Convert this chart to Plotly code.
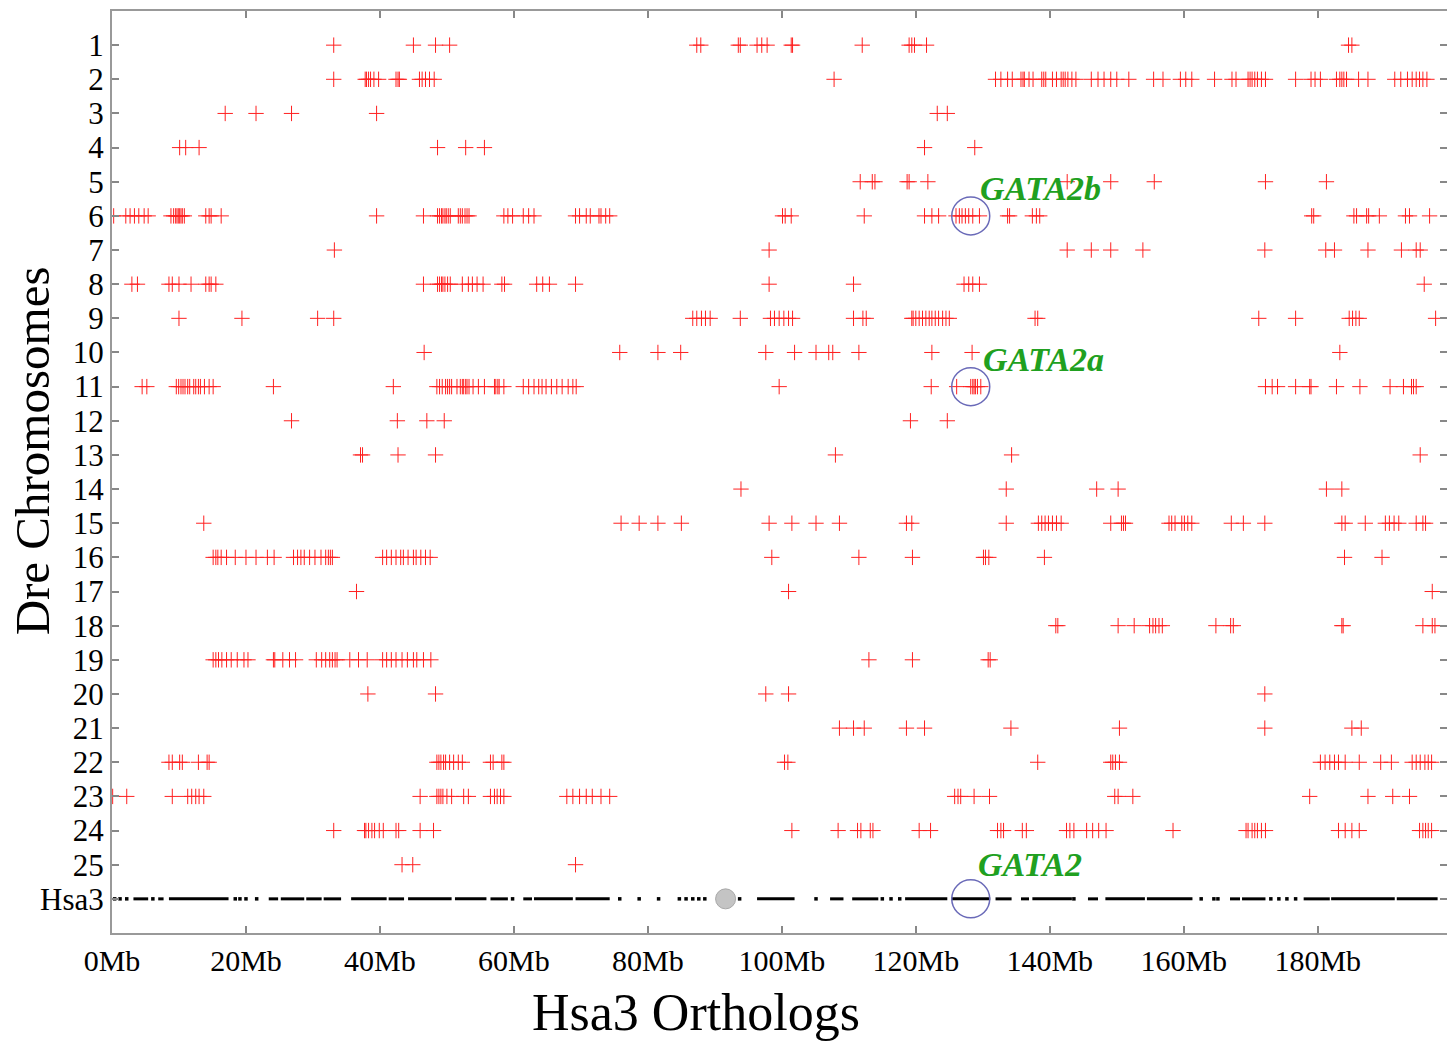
import plotly.graph_objects as go

# ---- Dre chromosome rows: positions (Mb on Hsa3) of orthologs ----
dre1 = [33.1, 45.0, 48.3, 50.4, 87.3, 87.9, 93.5, 93.8, 96.3, 97.0, 97.8, 101.4, 101.6, 112.0,
        119.0, 119.4, 119.8, 121.6, 184.6, 185.1]
dre2 = [33.1, 37.8, 38.0, 38.3, 38.6, 39.1, 39.8, 42.4, 42.7, 42.9, 45.9, 46.3, 46.8, 47.4, 48.1,
        107.8, 131.9, 132.7, 133.7, 134.4, 135.7, 136.0, 136.2, 136.9, 137.5, 138.8, 139.1, 139.4,
        140.4, 141.0, 141.7, 142.0, 142.3, 142.7, 143.3, 143.9, 146.2, 147.2, 148.1, 149.1, 150.0,
        151.8, 155.5, 156.9, 159.5, 160.3, 161.2, 164.6, 167.2, 167.8, 169.6, 169.9, 170.2, 170.6,
        171.0, 171.6, 172.2, 176.7, 179.0, 179.6, 180.4, 182.8, 183.3, 183.6, 183.9, 184.3, 186.1,
        187.5, 191.5, 192.4, 193.4, 194.1, 194.7, 195.2, 195.7, 196.3]
dre3 = [16.9, 21.5, 26.8, 39.5, 123.2, 124.7]
dre4 = [10.1, 11.0, 13.0, 48.6, 52.8, 55.6, 121.3, 128.8]
dre5 = [111.7, 113.5, 113.9, 118.7, 119.0, 121.8, 142.6, 149.1, 155.6, 172.2, 181.3]
dre6 = [0.25, 2.06, 2.7, 3.35, 4.0, 4.8, 5.4, 8.8, 9.2, 9.5, 9.7, 9.9, 10.1, 10.3, 10.5, 10.8,
        14.0, 14.5, 14.8, 16.3, 39.5, 46.5, 48.6, 48.9, 49.2, 49.4, 49.7, 49.9, 50.2, 50.5, 51.7,
        52.0, 52.3, 52.7, 53.0, 53.3, 58.5, 59.1, 59.8, 61.4, 62.2, 63.0, 69.2, 69.8, 70.8, 71.4,
        72.7, 73.0, 73.7, 74.3, 100.1, 100.5, 101.4, 112.3, 121.3, 122.4, 123.4, 126.0, 126.5,
        126.9, 127.4, 127.9, 128.5, 129.5, 133.7, 134.0, 137.4, 138.0, 138.5, 179.1, 179.4, 185.4,
        185.8, 187.3, 187.6, 189.2, 193.1, 193.7, 196.7]
dre7 = [33.2, 98.1, 142.6, 146.2, 149.1, 153.9, 172.1, 181.2, 182.5, 187.5, 192.5, 194.7, 195.3]
dre8 = [2.97, 3.8, 8.5, 9.0, 10.0, 11.8, 14.0, 14.5, 14.8, 15.5, 46.5, 48.6, 48.9, 49.2, 49.4,
        49.7, 50.1, 50.5, 52.3, 53.2, 53.8, 54.5, 55.4, 58.2, 58.6, 63.4, 64.3, 65.3, 69.2, 98.1,
        110.7, 127.2, 127.9, 128.5, 129.5, 195.9]
dre9 = [10.0, 19.4, 30.7, 33.1, 86.7, 87.3, 88.0, 88.6, 89.3, 93.8, 98.3, 98.9, 99.6, 100.3,
        101.0, 101.6, 110.7, 112.1, 112.6, 119.4, 119.6, 120.0, 120.5, 121.0, 121.5, 122.0, 122.4,
        122.9, 123.4, 124.0, 124.5, 125.0, 137.8, 138.2, 171.2, 176.7, 184.7, 185.2, 185.7, 186.2,
        197.6]
dre10 = [46.6, 75.8, 81.5, 84.9, 97.6, 101.9, 105.1, 107.0, 107.6, 111.5, 122.4, 128.4, 183.3]
dre11 = [4.5, 5.2, 9.6, 9.95, 10.3, 10.6, 10.9, 11.3, 11.6, 12.2, 12.5, 12.9, 13.2, 13.8, 14.5,
         15.1, 24.1, 42.0, 48.5, 48.9, 49.3, 49.8, 50.1, 50.4, 50.7, 51.5, 52.0, 52.3, 52.5, 52.8,
         53.0, 53.3, 53.9, 54.7, 55.6, 57.1, 57.3, 57.6, 57.8, 58.5, 61.4, 62.2, 63.0, 63.7, 64.2,
         64.8, 65.6, 66.4, 67.2, 68.1, 68.8, 69.3, 99.6, 122.3, 126.1, 128.2, 128.5, 128.7, 128.9,
         129.2, 129.7, 172.2, 173.2, 174.0, 176.7, 178.8, 179.0, 182.8, 186.3, 190.8, 192.8, 194.0,
         194.3, 194.7]
dre12 = [26.8, 42.6, 47.0, 49.6, 119.2, 124.7]
dre13 = [37.1, 37.4, 42.7, 48.3, 108.0, 134.3, 195.3]
dre14 = [93.9, 133.5, 147.0, 150.2, 181.3, 183.6]
dre15 = [13.7, 76.0, 78.7, 81.5, 85.0, 98.1, 101.5, 105.1, 108.6, 118.6, 119.4, 133.5, 138.3,
         138.8, 139.3, 139.8, 140.4, 141.0, 141.7, 149.1, 150.7, 151.0, 151.3, 157.8, 158.2, 158.7,
         159.7, 160.1, 160.6, 161.2, 167.1, 168.9, 172.1, 183.6, 184.1, 187.1, 190.1, 190.7, 191.4,
         192.1, 194.7, 195.7, 196.1]
dre16 = [15.1, 15.5, 15.8, 16.3, 17.1, 18.4, 20.0, 21.5, 23.2, 24.2, 27.1, 27.7, 28.2, 28.7,
         29.5, 30.3, 31.2, 31.9, 32.3, 32.6, 32.9, 40.4, 41.0, 41.7, 42.4, 43.1, 43.5, 44.2, 45.0,
         45.4, 46.1, 46.8, 47.5, 98.5, 111.5, 119.5, 130.1, 130.4, 130.9, 139.2, 184.0, 189.6]
dre17 = [36.5, 101.0, 197.1]
dre18 = [140.9, 141.2, 150.2, 152.6, 154.9, 155.4, 155.8, 156.3, 156.8, 164.8, 167.0, 167.4,
         183.6, 183.8, 195.7, 197.1, 197.5]
dre19 = [15.1, 15.5, 15.9, 16.4, 17.1, 17.8, 18.7, 19.7, 20.3, 24.1, 24.3, 25.5, 26.5, 27.4,
         30.5, 31.3, 31.9, 32.5, 32.9, 33.3, 33.6, 35.5, 36.8, 38.1, 40.4, 41.0, 41.7, 42.4, 43.3,
         44.1, 45.0, 45.5, 46.5, 47.6, 113.0, 119.5, 130.8, 131.1]
dre20 = [38.2, 48.3, 97.6, 101.0, 172.1]
dre21 = [108.6, 110.7, 112.3, 118.6, 121.3, 134.2, 150.4, 172.1, 185.1, 186.5]
dre22 = [8.5, 9.0, 10.1, 10.5, 12.9, 14.2, 14.5, 48.5, 48.8, 49.1, 49.5, 49.8, 50.4, 51.0, 51.7,
         52.3, 56.5, 56.9, 58.2, 58.5, 100.4, 100.9, 138.2, 149.1, 149.4, 149.8, 150.4, 180.4,
         181.1, 181.8, 182.5, 183.1, 184.1, 186.2, 189.4, 191.0, 194.1, 194.7, 195.3, 196.0, 196.5,
         197.0]
dre23 = [0.1, 2.2, 9.0, 11.3, 11.9, 12.5, 13.0, 13.7, 46.0, 48.5, 48.8, 49.1, 49.4, 50.0, 50.7,
         52.5, 53.2, 56.5, 57.1, 57.5, 58.0, 58.5, 67.9, 68.8, 69.8, 70.8, 71.7, 73.0, 74.3, 125.8,
         126.3, 126.7, 128.7, 131.0, 149.7, 150.2, 152.4, 178.8, 187.5, 191.2, 193.7]
dre24 = [33.1, 37.7, 37.9, 38.3, 38.8, 39.2, 39.9, 40.5, 42.4, 42.8, 46.0, 48.0, 101.5, 108.4,
         111.3, 111.8, 113.2, 113.6, 120.5, 122.2, 132.2, 132.7, 133.1, 135.9, 136.5, 142.5, 143.0,
         143.6, 145.5, 146.4, 147.3, 148.4, 158.4, 169.3, 169.6, 170.2, 170.6, 171.0, 171.6, 172.2,
         183.1, 184.1, 185.1, 186.2, 195.2, 195.7, 196.1, 196.5, 197.0]
dre25 = [43.3, 44.9, 69.2]

dre_rows = [dre1, dre2, dre3, dre4, dre5, dre6, dre7, dre8, dre9, dre10, dre11, dre12, dre13,
            dre14, dre15, dre16, dre17, dre18, dre19, dre20, dre21, dre22, dre23, dre24, dre25]

# ---- Hsa3 row: isolated ortholog dots and dense runs (start/end, Mb) ----
hsa3_dots = [0.4, 1.2, 2.2, 6.1, 18.4, 19.1, 20.0, 21.6, 59.8, 75.8, 78.7, 81.6, 84.7, 85.7,
             86.7, 87.6, 88.5, 93.7, 105.1, 115.0, 116.3, 117.6, 143.6, 162.6, 164.5, 165.1,
             173.0, 174.2, 175.4, 176.7]
hsa3_run_start = [3.2, 6.9, 8.5, 23.4, 25.2, 29.0, 31.6, 35.7, 41.3, 44.2, 51.2, 56.5, 61.4,
                  63.0, 69.2, 96.3, 107.2, 110.5, 118.4, 125.3, 131.9, 135.7, 137.4, 145.7,
                  148.3, 154.5, 166.9, 168.7, 177.9, 182.0, 191.8]
hsa3_run_end = [5.4, 7.7, 17.4, 24.8, 28.7, 31.3, 34.2, 41.0, 43.6, 50.7, 55.9, 59.1, 62.7,
                68.8, 74.3, 101.9, 109.2, 114.4, 124.7, 131.1, 134.3, 136.9, 143.3, 147.2,
                154.2, 161.3, 168.4, 172.2, 181.8, 191.5, 197.9]
centromere_mb = [91.6]

# ---- gene highlights ----
gata_labels = ["GATA2b", "GATA2a", "GATA2"]
gata_pos_mb = [128.2, 128.2, 128.2]
gata_rows = [6, 11, 26]

row_labels = [str(i) for i in range(1, 26)] + ["Hsa3"]
x_tick_mb = [0, 20, 40, 60, 80, 100, 120, 140, 160, 180]
x_tick_text = [f"{v}Mb" for v in x_tick_mb]

SERIF = "Liberation Serif"

fig = go.Figure()

xs, ys = [], []
for i, row in enumerate(dre_rows):
    xs.extend(row)
    ys.extend([i + 1] * len(row))
fig.add_trace(go.Scatter(
    x=xs, y=ys, mode="markers",
    marker=dict(symbol="cross-thin-open", size=11, color="#ff2020",
                line=dict(color="#ff2020", width=1)),
    hoverinfo="x+y", showlegend=False))

# Hsa3 runs
hx, hy = [], []
for s, e in zip(hsa3_run_start, hsa3_run_end):
    hx += [s, e, None]
    hy += [26, 26, None]
fig.add_trace(go.Scatter(x=hx, y=hy, mode="lines",
                         line=dict(color="black", width=3), showlegend=False))
fig.add_trace(go.Scatter(x=hsa3_dots, y=[26] * len(hsa3_dots), mode="markers",
                         marker=dict(symbol="square", size=3.5, color="black"),
                         showlegend=False))
fig.add_trace(go.Scatter(x=centromere_mb, y=[26], mode="markers",
                         marker=dict(symbol="circle", size=20, color="#c4c4c4",
                                     line=dict(color="#a8a8a8", width=1)),
                         showlegend=False))

# Blue circles around GATA2 loci
fig.add_trace(go.Scatter(x=gata_pos_mb, y=gata_rows, mode="markers",
                         marker=dict(symbol="circle-open", size=38, color="#6a6ab8",
                                     line=dict(color="#6a6ab8", width=1.5)),
                         showlegend=False))

label_y = [5.2, 10.2, 25.0]
label_x = [129.3, 129.7, 129.0]
for t, lx, ly in zip(gata_labels, label_x, label_y):
    fig.add_annotation(x=lx, y=ly, text=f"<b><i>{t}</i></b>", showarrow=False,
                       xanchor="left", yanchor="middle",
                       font=dict(family=SERIF, size=34, color="#20a020"))

fig.add_annotation(xref="paper", yref="paper", x=-0.0595, y=0.523, text="Dre Chromosomes",
                   textangle=-90, showarrow=False, xanchor="center", yanchor="middle",
                   borderpad=0, font=dict(family=SERIF, size=49, color="black"))
fig.add_annotation(xref="paper", yref="paper", x=0.4375, y=-0.0866, text="Hsa3 Orthologs",
                   showarrow=False, xanchor="center", yanchor="middle",
                   font=dict(family=SERIF, size=52, color="black"))

fig.update_xaxes(range=[0, 199.3], tickvals=x_tick_mb, ticktext=x_tick_text,
                 ticks="inside", ticklen=7, tickcolor="#888888", tickwidth=1.5,
                 showline=True, linecolor="#999999", linewidth=2, mirror="ticks",
                 showgrid=False, zeroline=False,
                 tickfont=dict(family=SERIF, size=30, color="black"))
fig.update_yaxes(range=[27, 0], tickvals=list(range(1, 27)), ticktext=row_labels,
                 ticks="inside", ticklen=7, tickcolor="#888888", tickwidth=1.5,
                 showline=True, linecolor="#999999", linewidth=2, mirror="ticks",
                 showgrid=False, zeroline=False,
                 tickfont=dict(family=SERIF, size=31, color="black"))

# The page body adds an 8px offset; sizes/margins compensate so the plot box
# sits at x 112..1447, y 9..933 in the 1455x1042 window.
fig.update_layout(width=1447, height=1034, margin=dict(l=104, r=8, t=1, b=109),
                  plot_bgcolor="white", paper_bgcolor="white", showlegend=False)

fig.write_html("out.html")
